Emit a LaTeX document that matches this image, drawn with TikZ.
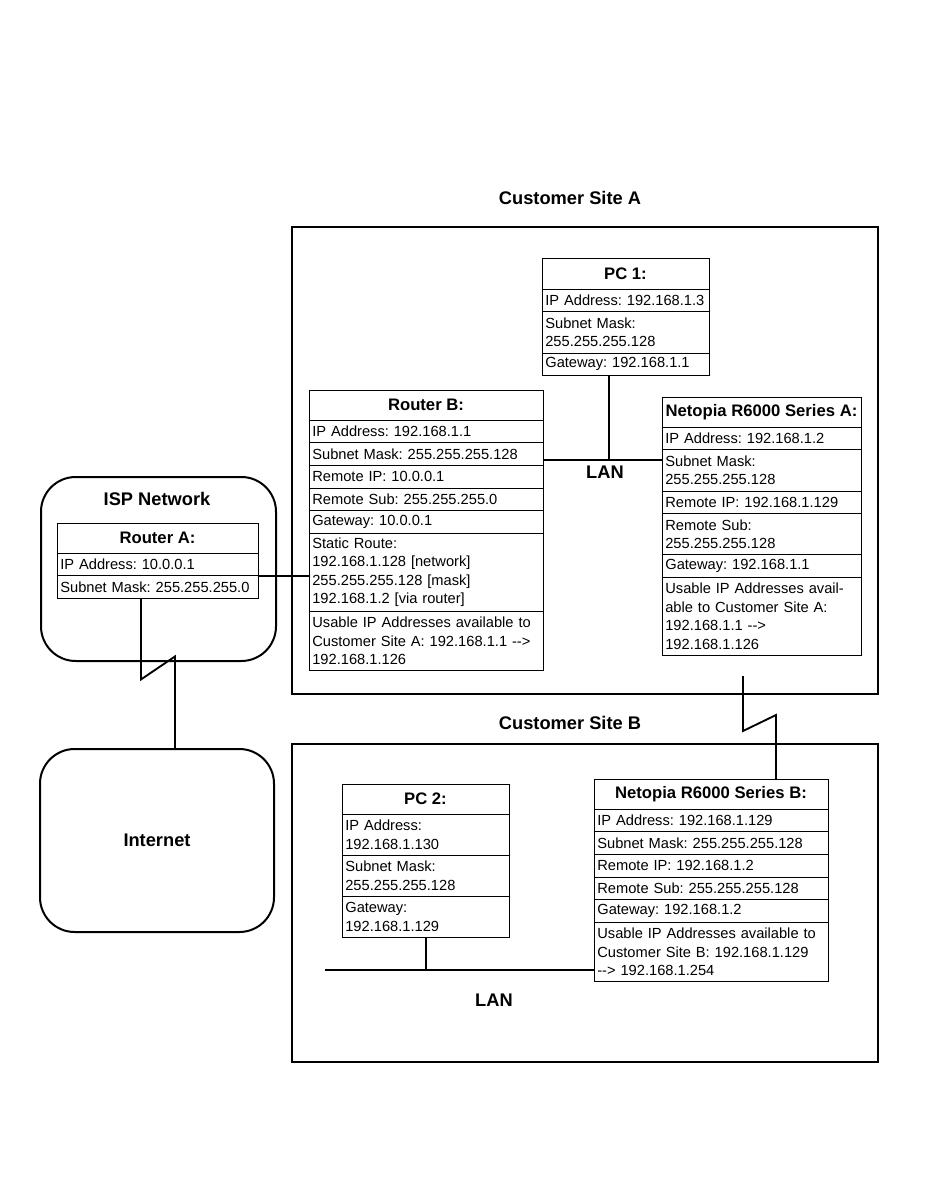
\documentclass[tikz,border=0pt]{standalone}
\usepackage{fontspec}
\setmainfont{Liberation Sans}
\usetikzlibrary{positioning}
\newcommand\cellfont{\fontsize{11}{13.9}\selectfont\frenchspacing}
\newcommand\headfont{\fontsize{12.5}{15}\selectfont\bfseries}
\newcommand\labelfont{\fontsize{13.7}{16}\selectfont\bfseries}

\begin{document}
\begin{tikzpicture}[
    x=0.75pt, y=-0.75pt,
    cell/.style={draw, line width=0.75pt, inner xsep=2.5pt, inner ysep=0pt, outer sep=0pt, align=left, font=\cellfont, minimum height=16.9pt},
    head/.style={draw, line width=0.75pt, inner sep=0pt, outer sep=0pt, anchor=north, font=\headfont, minimum height=22.8pt},
    two/.style={minimum height=30.8pt},
    three/.style={minimum height=44.7pt},
    four/.style={minimum height=58.6pt},
    pcw/.style={text width=120.25pt},
    raw/.style={text width=145.75pt},
    naw/.style={text width=144.25pt},
    wide/.style={text width=170.5pt},
    site/.style={draw, line width=1.5pt, anchor=north west, minimum width=439.5pt, inner sep=0pt},
    cloudbox/.style={draw, line width=1.5pt, rounded corners=26pt, anchor=north west, inner sep=0pt, font=\labelfont},
    lbl/.style={font=\labelfont, inner sep=0pt},
    wire/.style={line width=1.4pt}
]
    \useasboundingbox (0,0) rectangle (950,1187);

    % customer sites
    \node[lbl] (siteAlbl) at (570,198) {Customer Site A};
    \node[site, minimum height=350.25pt] (siteA) at (291,226) {};
    \node[lbl] (siteBlbl) at (570,723) {Customer Site B};
    \node[site, minimum height=238.5pt] (siteB) at (291,743) {};

    % ISP side
    \node[cloudbox, minimum width=176.25pt, minimum height=138pt] (isp) at (40,476) {};
    \node[lbl] (isplbl) at (157,499) {ISP Network};
    \node[cloudbox, minimum width=175.5pt, minimum height=137.25pt] (inet) at (39,748) {Internet};

    % Router A
    \node[head, minimum width=150.75pt] (ra) at (157.5,523) {Router A:};
    \node[cell, raw, below=0pt of ra] (raip) {IP Address: 10.0.0.1};
    \node[cell, raw, below=0pt of raip] (ramask) {Subnet Mask: 255.255.255.0};

    % PC 1
    \node[head, minimum width=125.25pt] (pc1) at (625.5,259) {PC 1:};
    \node[cell, pcw, below=0pt of pc1] (pc1ip) {IP Address: 192.168.1.3};
    \node[cell, pcw, two, below=0pt of pc1ip] (pc1mask) {Subnet Mask:\\255.255.255.128};
    \node[cell, pcw, below=0pt of pc1mask] (pc1gw) {Gateway: 192.168.1.1};

    % Router B
    \node[head, minimum width=175.5pt] (rb) at (426,390) {Router B:};
    \node[cell, wide, below=0pt of rb] (rbip) {IP Address: 192.168.1.1};
    \node[cell, wide, below=0pt of rbip] (rbmask) {Subnet Mask: 255.255.255.128};
    \node[cell, wide, below=0pt of rbmask] (rbrip) {Remote IP: 10.0.0.1};
    \node[cell, wide, below=0pt of rbrip] (rbrsub) {Remote Sub: 255.255.255.0};
    \node[cell, wide, below=0pt of rbrsub] (rbgw) {Gateway: 10.0.0.1};
    \node[cell, wide, four, below=0pt of rbgw] (rbroute) {Static Route:\\192.168.1.128 [network]\\255.255.255.128 [mask]\\192.168.1.2 [via router]};
    \node[cell, wide, three, below=0pt of rbroute] (rbuse) {Usable IP Addresses available to\\Customer Site A: 192.168.1.1 -{}->\\192.168.1.126};

    % Netopia A
    \node[head, minimum width=149.25pt] (na) at (761.5,397) {Netopia R6000 Series A:};
    \node[cell, naw, below=0pt of na] (naip) {IP Address: 192.168.1.2};
    \node[cell, naw, two, below=0pt of naip] (namask) {Subnet Mask:\\255.255.255.128};
    \node[cell, naw, below=0pt of namask] (narip) {Remote IP: 192.168.1.129};
    \node[cell, naw, two, below=0pt of narip] (narsub) {Remote Sub:\\255.255.255.128};
    \node[cell, naw, below=0pt of narsub] (nagw) {Gateway: 192.168.1.1};
    \node[cell, naw, four, below=0pt of nagw] (nause) {Usable IP Addresses avail-\\able to Customer Site A:\\192.168.1.1 -{}->\\192.168.1.126};

    % PC 2
    \node[head, minimum width=125.25pt] (pc2) at (425.5,784) {PC 2:};
    \node[cell, pcw, two, below=0pt of pc2] (pc2ip) {IP Address:\\192.168.1.130};
    \node[cell, pcw, two, below=0pt of pc2ip] (pc2mask) {Subnet Mask:\\255.255.255.128};
    \node[cell, pcw, two, below=0pt of pc2mask] (pc2gw) {Gateway:\\192.168.1.129};

    % Netopia B
    \node[head, minimum width=175.5pt] (nb) at (711,779) {Netopia R6000 Series B:};
    \node[cell, wide, below=0pt of nb] (nbip) {IP Address: 192.168.1.129};
    \node[cell, wide, below=0pt of nbip] (nbmask) {Subnet Mask: 255.255.255.128};
    \node[cell, wide, below=0pt of nbmask] (nbrip) {Remote IP: 192.168.1.2};
    \node[cell, wide, below=0pt of nbrip] (nbrsub) {Remote Sub: 255.255.255.128};
    \node[cell, wide, below=0pt of nbrsub] (nbgw) {Gateway: 192.168.1.2};
    \node[cell, wide, three, below=0pt of nbgw] (nbuse) {Usable IP Addresses available to\\Customer Site B: 192.168.1.129\\-{}-> 192.168.1.254};

    % LAN A
    \coordinate (lanA) at (609,460);
    \draw[wire] (pc1gw.south -| lanA) -- (lanA);
    \draw[wire] (rb.east |- lanA) -- (na.west |- lanA);
    \node[lbl] (lanAlbl) at (605,472) {LAN};

    % LAN B
    \coordinate (lanB) at (426,970);
    \coordinate (lanBend) at (325,970);
    \draw[wire] (pc2gw.south -| lanB) -- (lanB);
    \draw[wire] (lanBend) -- (nb.west |- lanB);
    \node[lbl] (lanBlbl) at (494,1000) {LAN};

    % links
    \draw[wire] (ramask.north east) -- (rb.west |- ramask.north east);
    \draw[wire] ([xshift=-12.4pt]ramask.south) -- ++(0,81) -- ++(34,-23) coordinate (zzA) -- (zzA |- inet.north);
    \coordinate (wanB) at (743,676);
    \draw[wire] (wanB) -- ++(0,55) -- ++(33,-16) coordinate (zzB) -- (zzB |- nb.north);
\end{tikzpicture}
\end{document}
